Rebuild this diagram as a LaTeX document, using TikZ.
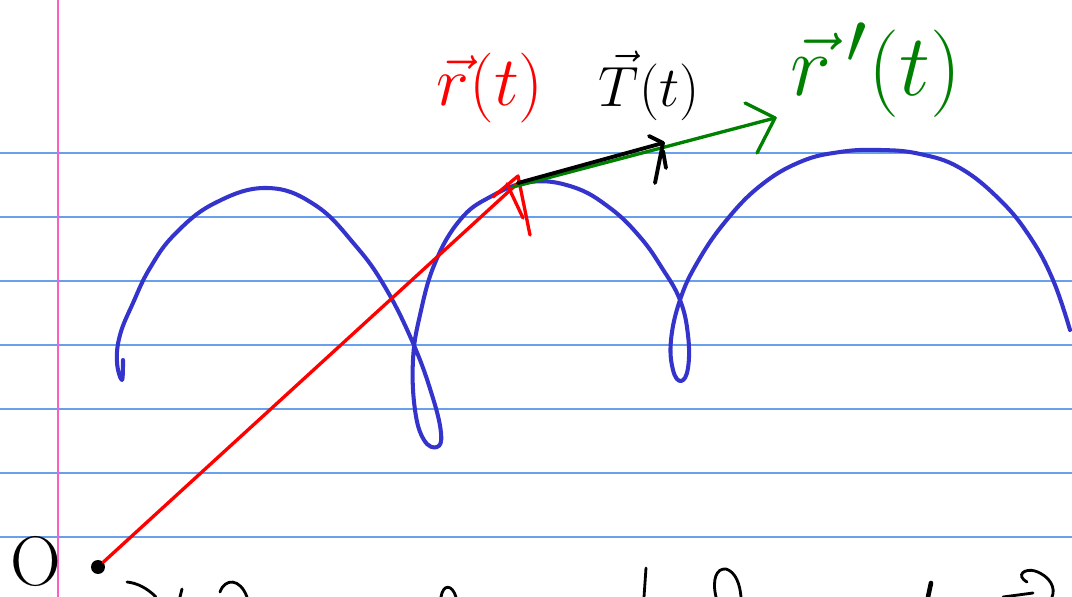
\documentclass[tikz,border=0pt]{standalone}
\usepackage{amsmath}
\definecolor{ruleblue}{RGB}{105,160,235}
\definecolor{marginpink}{RGB}{250,95,195}
\definecolor{curveblue}{RGB}{52,52,204}
\definecolor{vecgreen}{RGB}{0,128,0}
\begin{document}
\begin{tikzpicture}[x=0.02cm, y=-0.02cm,
    ruled/.style={ruleblue, line width=0.6pt},
    margin/.style={marginpink, line width=0.8pt},
    curve/.style={curveblue, line width=2.3pt, line cap=round, line join=round},
    redvec/.style={red, line width=1.9pt, line cap=round, line join=round},
    greenvec/.style={vecgreen, line width=1.9pt, line cap=round, line join=round},
    tvec/.style={black, line width=2.2pt, line cap=round, line join=round},
    ink/.style={black, line width=1.6pt, line cap=round},
    bigmath/.style={font=\Huge, inner sep=0pt, scale=#1},
    origdot/.style={circle, fill=black, inner sep=0pt, minimum size=0.28cm}]
    \useasboundingbox (0,0) rectangle (1072,597);
    % 横线
    \foreach \y in {153,217,281,345,409,473,537}
        \draw[ruled] (0,\y) -- (1072,\y);
    % 页边线
    \draw[margin] (58,0) -- (58,597);
    % 曲线
    \draw[curve] plot[smooth, tension=0.7] coordinates {
        (123,360) (122,380) (117,362) (120,335) (133,303) (150,268) (175,234)
        (215,203) (267,188) (315,205) (355,245) (385,287) (413,343) (432,395)
        (441,433) (437,447) (424,440) (415,410) (413,360) (420,315) (435,263)
        (460,220) (490,197) (530,182) (573,187) (610,208) (640,237) (662,268)
        (680,300) (688,335) (688,368) (681,381) (673,370) (671,340) (680,300)
        (697,263) (725,222) (760,186) (800,162) (840,152) (880,150) (920,154)
        (960,168) (1000,200) (1030,237) (1053,280) (1070,330)};
    % 原点
    \node[origdot] (orig) at (98,567) {};
    \node[font=\fontsize{40}{44}\selectfont, inner sep=0pt] (olab) at (36,562) {O};
    % 切点和箭头端
    \coordinate (P) at (518,183);
    \coordinate (Pg) at (513,187);
    \coordinate (Ttip) at (663,143);
    \coordinate (Gtip) at (775,118);
    % r(t)
    \draw[redvec] (orig) -- (P);
    \draw[redvec] (P) +(-25,14) -- +(0,-7) -- +(12,52);
    \draw[redvec] (P) +(-11,1) -- +(5,35);
    % r'(t)
    \draw[greenvec] (Pg) -- (Gtip);
    \draw[greenvec] (Gtip) +(-30,-15) -- +(0,0) -- +(-18,35);
    % T(t)
    \draw[tvec] (P) -- (Ttip);
    \draw[tvec] (Ttip) +(-14,-7) -- +(0,0) -- +(-8,40);
    \draw[tvec] (Ttip) +(0,8) -- +(3,25);
    % 标注
    \node[red, bigmath=1.6] (rlab) at (490,88) {$\vec{r}(t)$};
    \node[bigmath=1.3] (tlab) at (649,86) {$\vec{T}(t)$};
    \node[vecgreen, bigmath=2] (dlab) at (876,70) {$\vec{r}\,'(t)$};
    % 底部残字
    \draw[ink] (127,582) .. controls (137,583) and (147,588) .. (156,597);
    \draw[ink] (182,589) -- (180,597);
    \draw[ink] (220,592) .. controls (225,578) and (240,578) .. (247,597);
    \draw[ink] (441,597) .. controls (443,584) and (452,584) .. (456,597);
    \draw[ink] (646,568) -- (644,597);
    \draw[ink] (716,597) .. controls (712,580) and (716,568) .. (726,569) .. controls (736,572) and (740,585) .. (741,597);
    \draw[ink, line width=2.6pt] (931,583) -- (928,597);
    \draw[ink] (1027,582) .. controls (1015,575) and (1025,568) .. (1035,571) .. controls (1050,576) and (1056,588) .. (1052,597);
    \draw[ink] (1003,597) -- (1033,593);
\end{tikzpicture}
\end{document}
